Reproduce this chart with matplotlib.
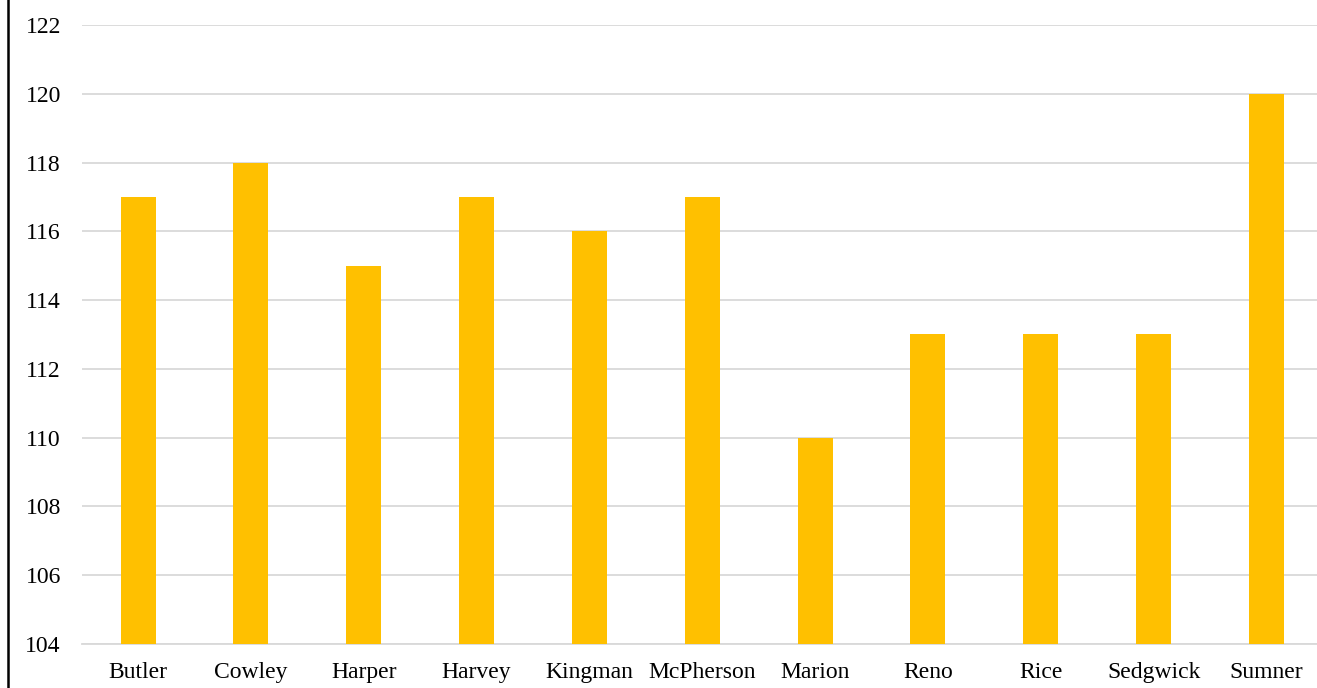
import matplotlib
matplotlib.use("Agg")
from matplotlib import pyplot as plt
from matplotlib.lines import Line2D

counties = ["Butler", "Cowley", "Harper", "Harvey", "Kingman", "McPherson",
            "Marion", "Reno", "Rice", "Sedgwick", "Sumner"]
values = [117, 118, 115, 117, 116, 117, 110, 113, 113, 113, 120]
yticks = [104, 106, 108, 110, 112, 114, 116, 118, 120, 122]

plt.rcParams['font.family'] = ['Liberation Serif', 'DejaVu Serif']

fig = plt.figure(figsize=(13.17, 6.88), dpi=100)
# plot area runs slightly past the right edge of the figure, as in the original
ax = fig.add_axes([0.062, 0.064, 0.9425, 0.8997])

ax.bar(range(len(counties)), [v - 104 for v in values], bottom=104,
       width=0.31, color="#FFC000", zorder=3)

ax.set_xlim(-0.5, len(counties) - 0.5)
ax.set_ylim(104, 122)
ax.set_yticks(yticks)
ax.set_xticks(range(len(counties)))
ax.set_xticklabels(counties)
ax.grid(axis="y", color="#D9D9D9", linewidth=1.3, zorder=0)
ax.tick_params(axis="both", length=0, labelsize=17, colors="black")
ax.tick_params(axis="y", pad=15)
ax.tick_params(axis="x", pad=13)
for side in ["top", "right", "left"]:
    ax.spines[side].set_visible(False)
ax.spines["bottom"].set_color("#D9D9D9")
ax.spines["bottom"].set_linewidth(1.3)

# black frame line at the left edge
fig.add_artist(Line2D([8 / 1317, 8 / 1317], [0, 1], color="black", linewidth=1.8,
                      transform=fig.transFigure))

fig.savefig("out.png", dpi=100)
